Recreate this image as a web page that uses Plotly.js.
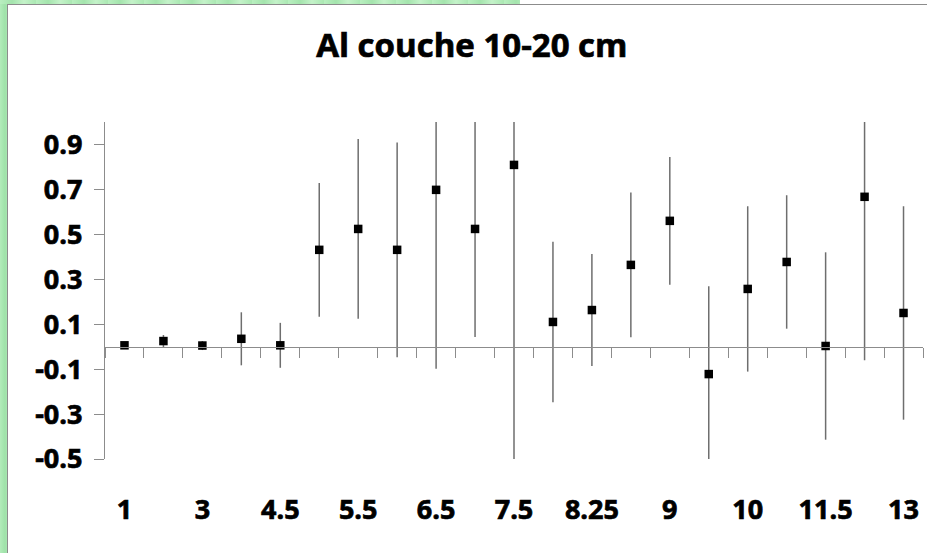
<!DOCTYPE html>
<html>
<head>
<meta charset="utf-8">
<script src="https://cdn.plot.ly/plotly-3.0.1.min.js"></script>
<style>
  html, body { margin: 0; padding: 0; width: 927px; height: 553px; overflow: hidden; background: #ffffff; }
  #edgeLeft { position: absolute; left: 0; top: 0; width: 7px; height: 553px;
    background: linear-gradient(90deg, #b2ecba 0px, #9fe2a9 5px, #a6e6af 7px); }
  #edgeTop { position: absolute; left: 0; top: 0; width: 520px; height: 4px;
    background: repeating-linear-gradient(90deg, #b9efc0 0px, #a4e4ad 12px, #c4f2c9 24px, #abe8b3 36px); }
  #lineLeft { position: absolute; left: 7px; top: 4px; width: 1px; height: 549px; background: #8c8c8c; }
  #lineTop { position: absolute; left: 7px; top: 4px; width: 920px; height: 1px; background: #8c8c8c; }
  #chart { position: absolute; left: 0; top: 0; width: 927px; height: 553px; }
  /* heavier strokes for the bold labels */
  #chart svg text { stroke: #000000; stroke-width: 0.7px; }
</style>
</head>
<body>
<div id="edgeLeft"></div>
<div id="edgeTop"></div>
<div id="lineLeft"></div>
<div id="lineTop"></div>
<div id="chart"></div>
<script>
// Sampling depths (categories) along the x axis
const categories = ['1', '2', '3', '4', '4.5', '5', '5.5', '6', '6.5', '7', '7.5',
                    '8', '8.25', '8.5', '9', '9.5', '10', '11', '11.5', '12', '13'];
// Labels printed under the axis (every other category)
const shownLabels = ['1', '3', '4.5', '5.5', '6.5', '7.5', '8.25', '9', '10', '11.5', '13'];
// Mean Al values, 10-20 cm layer
const meanAl = [0.006, 0.025, 0.005, 0.035, 0.006, 0.431, 0.524, 0.431, 0.698, 0.524, 0.809,
                0.110, 0.163, 0.364, 0.560, -0.122, 0.257, 0.377, 0.003, 0.667, 0.150];
// Error bar half-lengths
const errAl = [0.005, 0.027, 0.020, 0.118, 0.100, 0.298, 0.400, 0.478, 0.796, 0.481, 1.320,
               0.357, 0.249, 0.322, 0.284, 0.391, 0.368, 0.297, 0.417, 0.727, 0.475];
// Value axis ticks
const yTickVals = [-0.5, -0.3, -0.1, 0.1, 0.3, 0.5, 0.7, 0.9];
const yTickText = ['-0.5', '-0.3', '-0.1', '0.1', '0.3', '0.5', '0.7', '0.9'];

const yMin = -0.5, yMax = 1.0;
const axisGray = '#8c8c8c';
const labelFont = { family: '"Open Sans", Lato, sans-serif', size: 27, color: '#000000', weight: 'bold' };

// Tick marks sit on the boundaries between categories
const boundaries = [];
for (let i = 0; i <= categories.length; i++) boundaries.push(i - 0.5);

const trace = {
  type: 'scatter',
  mode: 'markers',
  x: categories,
  y: meanAl,
  xaxis: 'x',
  yaxis: 'y',
  marker: { symbol: 'square', size: 8.5, color: '#000000' },
  error_y: { type: 'data', array: errAl, visible: true, color: '#6e6e6e', thickness: 1.5, width: 0 },
  hoverinfo: 'x+y',
  showlegend: false
};

// Empty trace that attaches the category axis drawn along y = 0
const axisHolder = {
  type: 'scatter',
  mode: 'markers',
  x: [],
  y: [],
  xaxis: 'x2',
  yaxis: 'y',
  hoverinfo: 'skip',
  showlegend: false
};

const layout = {
  width: 927,
  height: 553,
  paper_bgcolor: 'rgba(0,0,0,0)',
  plot_bgcolor: 'rgba(0,0,0,0)',
  margin: { l: 105, r: 4, t: 122, b: 94, pad: 0 },
  showlegend: false,
  title: {
    text: 'Al couche 10-20 cm',
    font: { family: '"Open Sans", Lato, sans-serif', size: 33, color: '#000000', weight: 'bold' },
    xref: 'container', yref: 'container',
    x: 0.509, y: 0.917, xanchor: 'center', yanchor: 'middle'
  },
  xaxis: {
    type: 'category',
    categoryorder: 'array',
    categoryarray: categories,
    range: [-0.5, categories.length - 0.5],
    tickmode: 'array',
    tickvals: shownLabels,
    ticktext: shownLabels,
    ticks: 'outside',
    ticklen: 27,
    tickcolor: 'rgba(0,0,0,0)',
    tickfont: labelFont,
    showline: false,
    showgrid: false,
    zeroline: false,
    fixedrange: true
  },
  xaxis2: {
    type: 'linear',
    overlaying: 'x',
    anchor: 'free',
    position: (0 - yMin) / (yMax - yMin),
    range: [-0.5, categories.length - 0.5],
    tickmode: 'array',
    tickvals: boundaries,
    ticks: 'outside',
    ticklen: 10,
    tickwidth: 1,
    tickcolor: axisGray,
    showticklabels: false,
    showline: true,
    linecolor: axisGray,
    linewidth: 1.2,
    showgrid: false,
    zeroline: false,
    fixedrange: true
  },
  yaxis: {
    range: [yMin, yMax],
    tickmode: 'array',
    tickvals: yTickVals,
    ticktext: yTickText,
    ticks: 'outside',
    ticklen: 10,
    tickwidth: 1,
    tickcolor: axisGray,
    ticklabelstandoff: 6,
    tickfont: labelFont,
    showline: true,
    linecolor: axisGray,
    linewidth: 1.2,
    showgrid: false,
    zeroline: false,
    fixedrange: true
  }
};

Plotly.newPlot('chart', [trace, axisHolder], layout, { displayModeBar: false, staticPlot: true });
</script>
</body>
</html>
